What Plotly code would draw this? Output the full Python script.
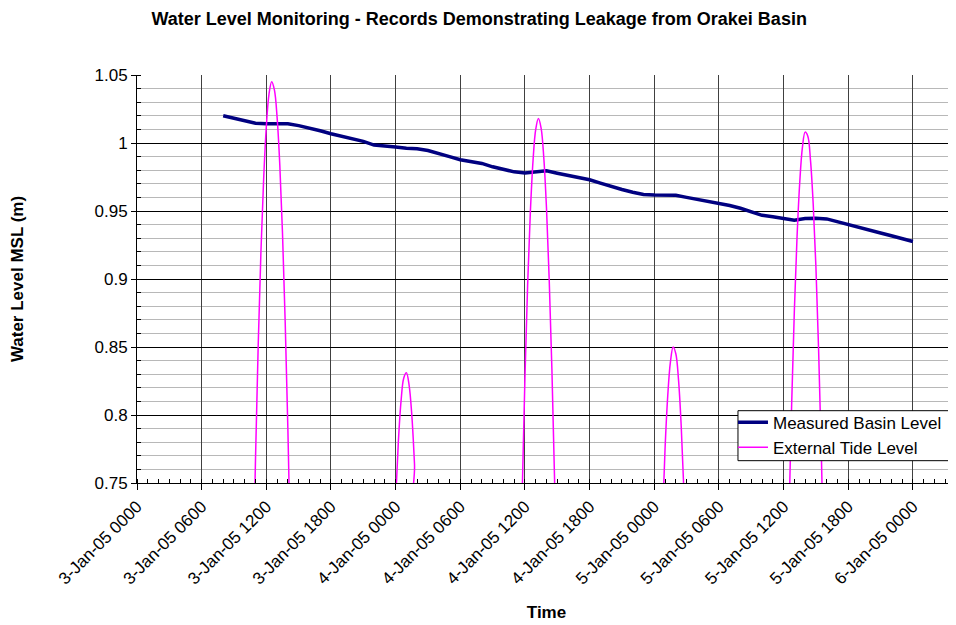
import pandas as pd
import plotly.graph_objects as go

START = pd.Timestamp("2005-01-03 00:00")

# Measured basin level: hours after 3-Jan-05 0000 and level (m MSL)
basin_hours = list(range(8, 73))
basin_level = [
    1.0200, 1.0183, 1.0162, 1.0145, 1.0142, 1.0142, 1.0142, 1.0128, 1.0112, 1.0090,
    1.0068, 1.0050, 1.0030, 1.0012, 0.9985, 0.9975, 0.9970, 0.9962, 0.9958, 0.9945,
    0.9925, 0.9900, 0.9877, 0.9862, 0.9850, 0.9825, 0.9805, 0.9788, 0.9780, 0.9785,
    0.9795, 0.9778, 0.9760, 0.9745, 0.9730, 0.9705, 0.9680, 0.9658, 0.9638, 0.9622,
    0.9618, 0.9615, 0.9615, 0.9600, 0.9585, 0.9570, 0.9559, 0.9540, 0.9520, 0.9495,
    0.9468, 0.9458, 0.9445, 0.9432, 0.9445, 0.9447, 0.9442, 0.9420, 0.9400, 0.9380,
    0.9358, 0.9338, 0.9318, 0.9297, 0.9276,
]

# External tide level (only the high-water portions reach the plotted range)
tide_hours = [
    10.5, 10.75, 11.0, 11.25, 11.5, 11.75, 12.0, 12.25, 12.5, 12.75, 13.0, 13.25, 13.5, 13.75, 14.0, 14.25, 14.5,
    23.75, 24.0, 24.25, 24.5, 24.75, 25.0, 25.25, 25.5, 25.75, 26.0,
    35.5, 35.75, 36.0, 36.25, 36.5, 36.75, 37.0, 37.25, 37.5, 37.75, 38.0, 38.25, 38.5, 38.75, 39.0,
    48.5, 48.75, 49.0, 49.25, 49.5, 49.75, 50.0, 50.25, 50.5, 50.75, 51.0,
    60.25, 60.5, 60.75, 61.0, 61.25, 61.5, 61.75, 62.0, 62.25, 62.5, 62.75, 63.0, 63.25, 63.5, 63.75,
]
tide_level = [
    0.559, 0.671, 0.769, 0.852, 0.920, 0.973, 1.012, 1.036, 1.045, 1.039, 1.019, 0.984, 0.934, 0.869, 0.790, 0.696, 0.587,
    0.680, 0.737, 0.780, 0.810, 0.827, 0.831, 0.822, 0.800, 0.764, 0.716,
    0.646, 0.744, 0.828, 0.896, 0.949, 0.987, 1.010, 1.018, 1.011, 0.989, 0.952, 0.900, 0.834, 0.752, 0.655,
    0.651, 0.720, 0.775, 0.814, 0.839, 0.850, 0.845, 0.826, 0.792, 0.744, 0.680,
    0.628, 0.725, 0.808, 0.877, 0.931, 0.971, 0.997, 1.008, 1.005, 0.987, 0.955, 0.909, 0.848, 0.773, 0.684,
]

# Axis ticks
x_tick_hours = [0, 6, 12, 18, 24, 30, 36, 42, 48, 54, 60, 66, 72]
x_tick_labels = [
    "3-Jan-05 0000", "3-Jan-05 0600", "3-Jan-05 1200", "3-Jan-05 1800",
    "4-Jan-05 0000", "4-Jan-05 0600", "4-Jan-05 1200", "4-Jan-05 1800",
    "5-Jan-05 0000", "5-Jan-05 0600", "5-Jan-05 1200", "5-Jan-05 1800",
    "6-Jan-05 0000",
]
y_tick_vals = [0.75, 0.80, 0.85, 0.90, 0.95, 1.00, 1.05]
y_tick_labels = ["0.75", "0.8", "0.85", "0.9", "0.95", "1", "1.05"]


def to_time(hours):
    return [START + pd.Timedelta(hours=h) for h in hours]


FONT = "Liberation Sans, Arial, sans-serif"
FS = 17

fig = go.Figure()
fig.add_trace(go.Scatter(
    x=to_time(basin_hours), y=basin_level, mode="lines",
    name="Measured Basin Level", line=dict(color="#000080", width=3.5),
))
fig.add_trace(go.Scatter(
    x=to_time(tide_hours), y=tide_level, mode="lines",
    name="External Tide Level", line=dict(color="#ff00ff", width=1.5, shape="spline"),
))

# the page body has an 8px margin, so the figure is 8px smaller and margins shifted
fig.update_layout(
    width=948, height=617,
    margin=dict(l=129, r=0, t=67, b=142, autoexpand=False),
    paper_bgcolor="white", plot_bgcolor="white",
    font=dict(family=FONT, size=FS, color="black"),
    title=dict(
        text="<b>Water Level Monitoring - Records Demonstrating Leakage from Orakei Basin</b>",
        x=0.497, xref="container", xanchor="center", y=0.982, yanchor="middle",
        font=dict(family=FONT, size=18, color="black"),
    ),
    showlegend=True,
    legend=dict(
        x=0.7277, y=0.192, xanchor="left", yanchor="top",
        bgcolor="rgba(0,0,0,0)", borderwidth=0,
        font=dict(family=FONT, size=FS, color="black"),
        tracegroupgap=0, itemwidth=30,
    ),
    # legend frame
    shapes=[dict(
        type="rect", xref="paper", yref="paper",
        x0=0.7338, x1=0.9951, y0=0.0547, y1=0.1772,
        fillcolor="white", line=dict(color="black", width=1), layer="above",
    )],
)

fig.update_xaxes(
    type="date", automargin=False,
    range=[START, START + pd.Timedelta(hours=76)],
    tickvals=to_time(x_tick_hours), ticktext=x_tick_labels,
    tickangle=-45, tickfont=dict(family=FONT, size=FS),
    ticks="outside", ticklen=6, tickcolor="black", tickwidth=1,
    showline=True, linecolor="black", linewidth=1,
    showgrid=True, gridcolor="#404040", gridwidth=1,
    minor=dict(dtick=3600000, ticks="inside", ticklen=4, tickcolor="black", showgrid=False),
    title=dict(text="<b>Time</b>", font=dict(family=FONT, size=FS), standoff=18),
    zeroline=False,
)
fig.update_yaxes(
    range=[0.75, 1.05], automargin=False,
    tickvals=y_tick_vals, ticktext=y_tick_labels,
    tickfont=dict(family=FONT, size=FS),
    ticks="outside", ticklen=5, tickcolor="black", tickwidth=1,
    showline=True, linecolor="black", linewidth=1,
    showgrid=True, gridcolor="black", gridwidth=1,
    minor=dict(dtick=0.01, tick0=0.75, ticks="inside", ticklen=4, tickcolor="black",
               showgrid=True, gridcolor="#b8b8b8", gridwidth=1),
    title=dict(text="<b>Water Level MSL (m)</b>", font=dict(family=FONT, size=FS), standoff=66),
    zeroline=False,
)

fig.write_html("out.html")
